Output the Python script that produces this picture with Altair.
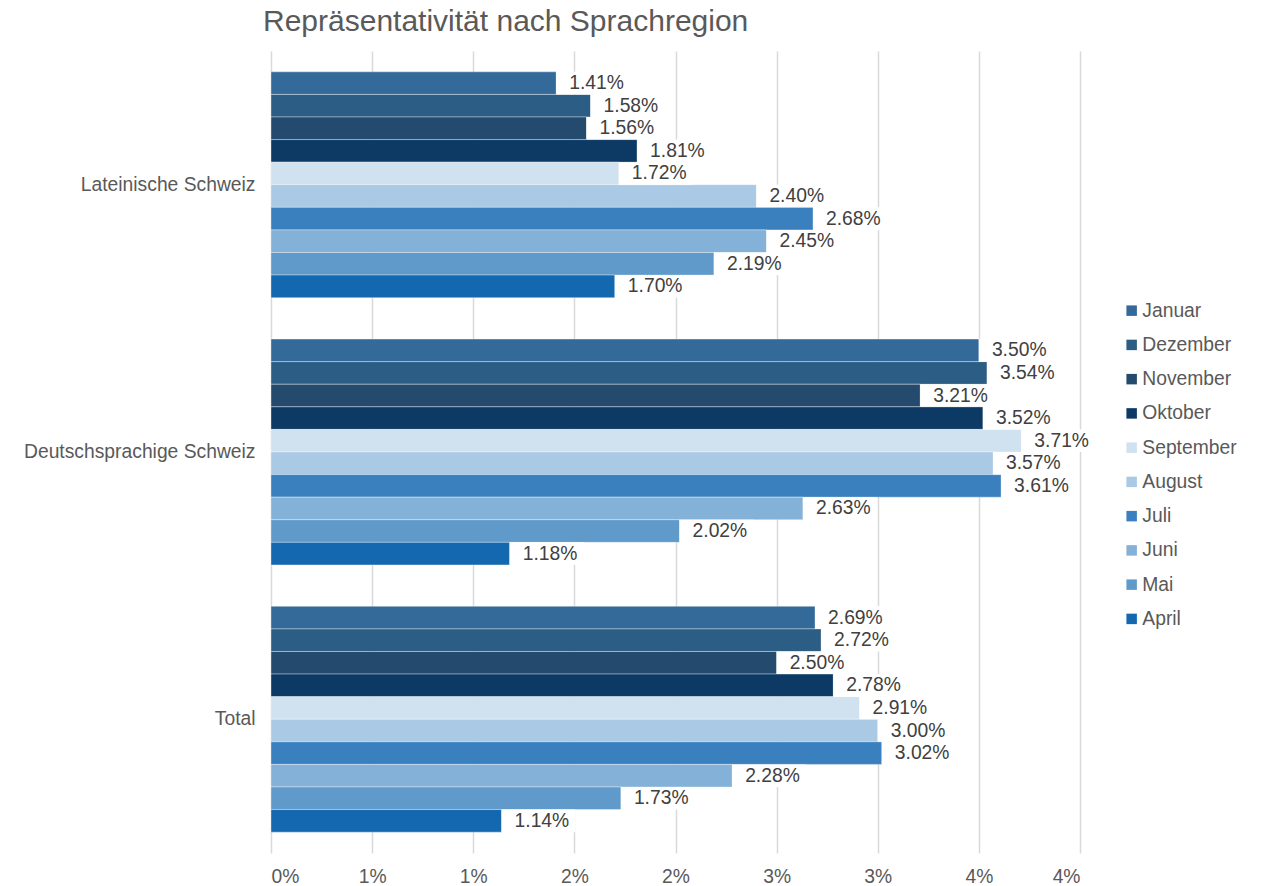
import json
import altair as alt
import pandas as pd

months = ["Januar", "Dezember", "November", "Oktober", "September",
          "August", "Juli", "Juni", "Mai", "April"]
colors = ["#346A99", "#2C5D85", "#244B6E", "#0D3A64", "#D0E1F0",
          "#A9C9E4", "#3A80BE", "#84B1D7", "#5F9ACA", "#1468B0"]
regions = ["Lateinische Schweiz", "Deutschsprachige Schweiz", "Total"]
lateinische = [1.41, 1.58, 1.56, 1.81, 1.72, 2.40, 2.68, 2.45, 2.19, 1.70]
deutsch = [3.50, 3.54, 3.21, 3.52, 3.71, 3.57, 3.61, 2.63, 2.02, 1.18]
total = [2.69, 2.72, 2.50, 2.78, 2.91, 3.00, 3.02, 2.28, 1.73, 1.14]
tick_values = [0, 0.5, 1, 1.5, 2, 2.5, 3, 3.5, 4]
tick_labels = ["0%", "1%", "1%", "2%", "2%", "3%", "3%", "4%", "4%"]

rows = []
for reg, vals in zip(regions, [lateinische, deutsch, total]):
    for m, v in zip(months, vals):
        rows.append({"region": reg, "month": m, "value": v})
df = pd.DataFrame(rows)

FONT = "Liberation Sans"
FS = 19.3

y_enc = alt.Y("region:N", sort=regions, title=None,
              scale=alt.Scale(paddingInner=0.155, paddingOuter=0.078),
              axis=alt.Axis(labelFont=FONT, labelFontSize=FS, labelColor="#595959",
                            ticks=False, domain=False, labelPadding=16,
                            labelLimit=400))
yoff = alt.YOffset("month:N", sort=months,
                   scale=alt.Scale(paddingInner=0, paddingOuter=0))
x_enc = alt.X("value:Q", title=None,
              scale=alt.Scale(domain=[0, 4], nice=False),
              axis=alt.Axis(values=tick_values,
                            labelExpr=json.dumps(tick_labels) + "[round(datum.value*2)]",
                            labelFont=FONT, labelFontSize=FS, labelColor="#595959",
                            ticks=False, domain=False, labelPadding=14,
                            grid=True, gridColor="#D9D9D9", gridWidth=1.5))

base = alt.Chart(df)

bars = base.mark_bar(stroke="white", strokeWidth=0.8, strokeOpacity=0.45).encode(
    x=x_enc,
    y=y_enc,
    yOffset=yoff,
    color=alt.Color("month:N", sort=months,
                    scale=alt.Scale(domain=months, range=colors),
                    legend=alt.Legend(title=None, orient="none", legendX=851, legendY=250,
                                      symbolType="square", symbolSize=110,
                                      symbolStrokeWidth=0,
                                      labelFont=FONT, labelFontSize=FS,
                                      labelColor="#595959", labelOffset=1,
                                      rowPadding=14.25)),
)

boxes = base.mark_rect(color="white", x2Offset=74).encode(
    x="value:Q",
    x2="value:Q",
    y=alt.Y("region:N", sort=regions),
    yOffset=yoff,
)

labels = base.transform_calculate(
    lab="format(datum.value, '.2f') + '%'"
).mark_text(align="left", baseline="middle", dx=13, font=FONT, fontSize=FS,
            color="#404040").encode(
    x="value:Q",
    y=alt.Y("region:N", sort=regions),
    yOffset=yoff,
    text="lab:N",
)

chart = alt.layer(bars, boxes, labels).properties(
    width=809,
    height=802,
    title=alt.TitleParams("Repräsentativität nach Sprachregion", anchor="start",
                          frame="group", dx=-8, offset=-10, baseline="alphabetic",
                          font=FONT, fontSize=30, fontWeight="normal",
                          color="#595959"),
    autosize=alt.AutoSizeParams(type="none"),
    padding={"left": 263, "top": 43, "right": 170, "bottom": 40},
).configure_view(stroke=None)

chart.save("out.html", embed_options={"renderer": "svg", "actions": False})
